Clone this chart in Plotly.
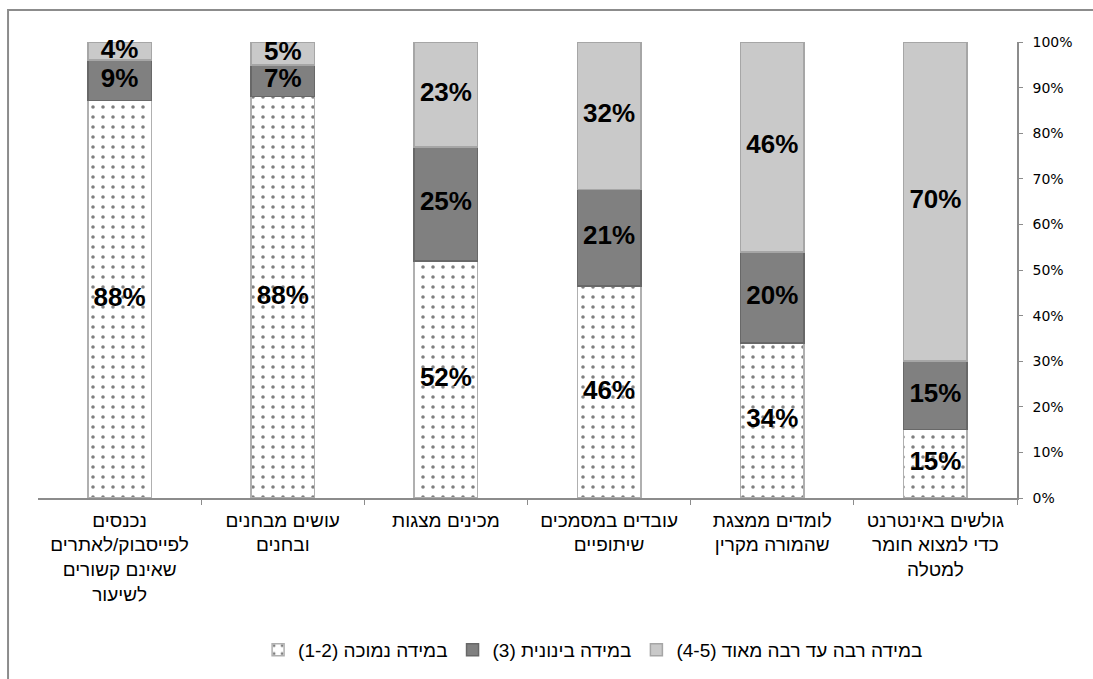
import plotly.graph_objects as go

# Activities (first one is drawn at the right, axis is reversed)
categories = [
    "גולשים באינטרנט<br>כדי למצוא חומר<br>למטלה",
    "לומדים ממצגת<br>שהמורה מקרין",
    "עובדים במסמכים<br>שיתופיים",
    "מכינים מצגות",
    "עושים מבחנים<br>ובחנים",
    "נכנסים<br>לפייסבוק/לאתרים<br>שאינם קשורים<br>לשיעור",
]

series_names = [
    "במידה נמוכה (1-2)",
    "במידה בינונית (3)",
    "במידה רבה עד רבה מאוד (4-5)",
]

low_values = [15, 34, 46, 52, 88, 88]
mid_values = [15, 20, 21, 25, 7, 9]
high_values = [70, 46, 32, 23, 5, 4]

y_ticks = [0, 10, 20, 30, 40, 50, 60, 70, 80, 90, 100]
y_tick_labels = [f"{t}%" for t in y_ticks]


def rtl(s):
    # right-to-left embedding so the bracketed range sits on the left of the Hebrew
    return "\u202b" + s + "\u202c"


series_values = [low_values, mid_values, high_values]
series_markers = [
    dict(
        color="white",
        line=dict(color="#b0b0b0", width=1.5),
        pattern=dict(shape=".", size=10, solidity=0.1, fgcolor="#000000", bgcolor="white"),
    ),
    dict(color="#808080", line=dict(color="#686868", width=1.5)),
    dict(color="#c9c9c9", line=dict(color="#a6a6a6", width=1.5)),
]

fig = go.Figure()

for name, vals, mk in zip(series_names, series_values, series_markers):
    fig.add_trace(go.Bar(
        name=rtl(name),
        x=categories,
        y=vals,
        marker=mk,
        textposition="none",
        hovertemplate="%{y:.0f}%<extra></extra>",
    ))

# Value labels at the middle of each stacked segment (shares of 100% per bar)
totals = [sum(col) for col in zip(*series_values)]
base = [0.0] * len(categories)
for vals in series_values:
    mids = []
    for i, v in enumerate(vals):
        share = v * 100.0 / totals[i]
        mids.append(base[i] + share / 2)
        base[i] += share
    fig.add_trace(go.Scatter(
        x=categories,
        y=mids,
        mode="text",
        text=[f"{v}%" for v in vals],
        textposition="middle center",
        textfont=dict(family="Arial, Liberation Sans, sans-serif", size=26,
                      color="black", weight="bold"),
        showlegend=False,
        hoverinfo="skip",
        cliponaxis=False,
    ))

fig.update_layout(
    width=1093,
    height=679,
    barmode="stack",
    barnorm="percent",
    bargap=0.61,
    paper_bgcolor="white",
    plot_bgcolor="white",
    margin=dict(l=38, r=76, t=42, b=180),
    font=dict(family="Arial, Liberation Sans, sans-serif", size=19, color="black"),
    showlegend=True,
    legend=dict(
        orientation="h",
        x=0.567,
        xanchor="center",
        y=-0.33,
        yanchor="middle",
        traceorder="normal",
        font=dict(size=19),
        itemwidth=30,
    ),
    xaxis=dict(
        autorange="reversed",
        showline=True,
        linecolor="#8c8c8c",
        linewidth=1.5,
        ticks="outside",
        tickson="boundaries",
        ticklen=5,
        tickcolor="#8c8c8c",
        showgrid=False,
        tickfont=dict(size=19),
        tickangle=0,
        ticklabelstandoff=4,
    ),
    yaxis=dict(
        side="right",
        range=[0, 100],
        tickvals=y_ticks,
        ticktext=y_tick_labels,
        showline=True,
        linecolor="#8c8c8c",
        linewidth=1.5,
        ticks="outside",
        ticklen=4,
        tickcolor="#8c8c8c",
        showgrid=False,
        zeroline=False,
        tickfont=dict(family="DejaVu Sans, sans-serif", size=14),
        ticklabelstandoff=7,
    ),
)

# Chart-area frame
fig.add_shape(
    type="rect", xref="paper", yref="paper",
    x0=-0.0306, x1=1.2, y0=-0.45, y1=1.07,
    line=dict(color="#8c8c8c", width=2),
    fillcolor="rgba(0,0,0,0)",
    layer="below",
)

fig.write_html("out.html")
